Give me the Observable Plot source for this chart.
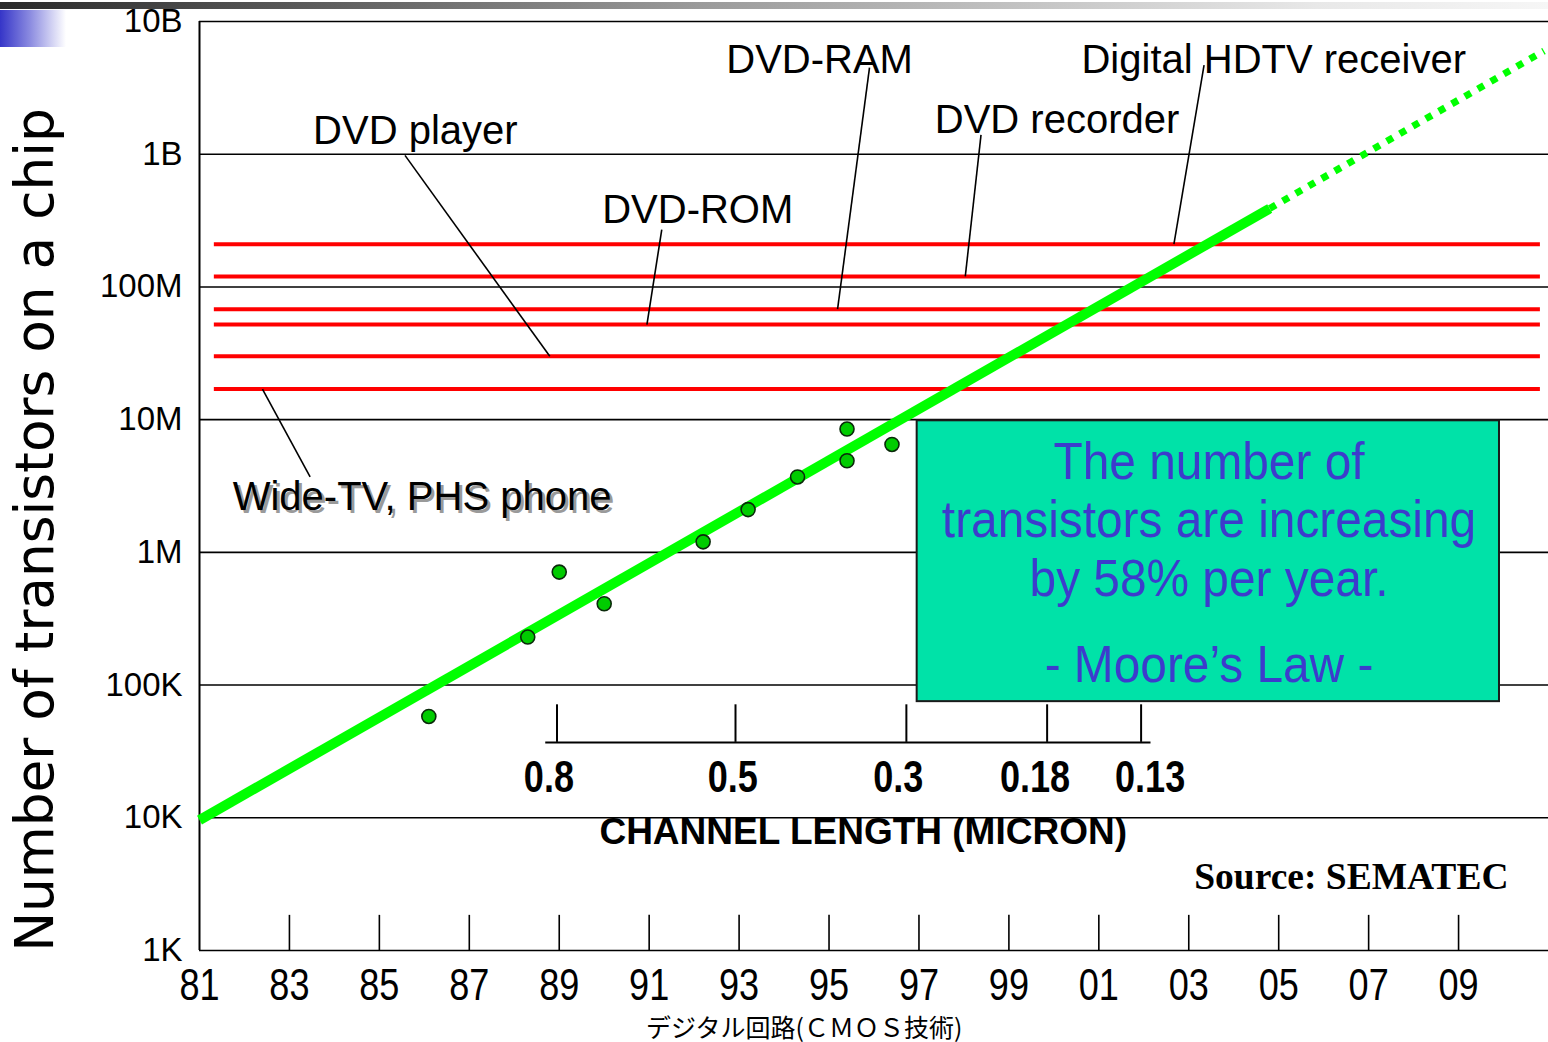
<!DOCTYPE html>
<html><head><meta charset="utf-8">
<script src="https://cdn.jsdelivr.net/npm/d3@7"></script>
<script src="https://cdn.jsdelivr.net/npm/@observablehq/plot@0.6"></script>
<style>
body{margin:0;background:#fff;}
#wrap{position:relative;width:1548px;height:1042px;overflow:hidden;}
#chart{position:absolute;left:0;top:0;}
#topbar{position:absolute;left:0;top:2px;width:1548px;height:7px;background:linear-gradient(to right,#2a2a2a,#9a9a9a 45%,#e8e8e8 85%,#f6f6f6);}
#corner{position:absolute;left:0;top:10px;width:66px;height:37px;background:linear-gradient(to right,#3535c8,#8a8ae0 45%,#ffffff);}
</style></head>
<body><div id="wrap"><div id="chart"></div><div id="topbar"></div><div id="corner"></div></div>
<script>
// ---- data ----
const yearTicks = [1981,1983,1985,1987,1989,1991,1993,1995,1997,1999,2001,2003,2005,2007,2009];
const yTickValues = [1e3,1e4,1e5,1e6,1e7,1e8,1e9,1e10];
const yTickLabels = ["1K","10K","100K","1M","10M","100M","1B","10B"];

const chipYears = [1986.1, 1988.3, 1989.0, 1990.0, 1992.2, 1993.2, 1994.3, 1995.4, 1995.4, 1996.4];
const chipTransistors = [5.8e4, 2.3e5, 7.1e5, 4.1e5, 1.2e6, 2.1e6, 3.7e6, 4.9e6, 8.5e6, 6.5e6];

const trendYears = [1981, 2004.8, 2010.9];
const trendValues = [9.6e3, 3.9e8, 6.0e9];

const deviceNames = ["Digital HDTV receiver","DVD recorder","DVD-RAM","DVD-ROM","DVD player","Wide-TV, PHS phone"];
const deviceLevels = [2.1e8, 1.2e8, 6.8e7, 5.2e7, 3.0e7, 1.7e7];
const deviceSpan = [1981.33, 2010.82];
const labelYears = [2004.89, 2000.07, 1994.79, 1992.08, 1985.8, 1985.95];
const labelValues = [5.1e9, 1.8e9, 5.1e9, 3.8e8, 1.5e9, 2.6e6];
const leaderFromYears = [2003.34, 1998.38, 1995.90, 1991.28, 1985.57, 1983.46];
const leaderFromValues = [4.7e9, 1.4e9, 4.5e9, 2.7e8, 9.8e8, 3.7e6];
const leaderToYears = [2002.67, 1998.03, 1995.19, 1990.95, 1988.79, 1982.40];

const channelLengths = ["0.8","0.5","0.3","0.18","0.13"];
const channelYears = [1988.95, 1992.92, 1996.72, 1999.85, 2001.94];
const channelLabelYears = [1988.77, 1992.86, 1996.54, 1999.58, 2002.14];
const channelAxisSpan = [1988.70, 2002.16];
const channelAxisValue = 3.7e4;
const channelTickTop = 7.1e4;
const channelLabelValue = 2.0e4;
const channelTitle = "CHANNEL LENGTH (MICRON)";
const channelTitlePos = [1995.76, 7.8e3];

const boxYears = [1996.96, 2009.91];
const boxValues = [7.5e4, 9.8e6];
const boxLines = ["The number of", "transistors are increasing", "by 58% per year.", "- Moore\u2019s Law -"];
const boxLineValues = [4.8e6, 1.74e6, 6.3e5, 1.4e5];
const boxCenterYear = 2003.45;

const sourceText = "Source: SEMATEC";
const sourcePos = [2010.11, 3.55e3];
const yTitle = "Number of transistors on a chip";
const caption = "デジタル回路(ＣＭＯＳ技術)";
const captionYear = 1994.45;

// ---- derived tables ----
const chips = chipYears.map((x, i) => ({x, y: chipTransistors[i]}));
const trend = trendYears.map((x, i) => ({x, y: trendValues[i]}));
const leaders = deviceNames.map((n, i) => ({x1: leaderFromYears[i], y1: leaderFromValues[i], x2: leaderToYears[i], y2: deviceLevels[i]}));
const labels = deviceNames.map((n, i) => ({name: n, x: labelYears[i], y: labelValues[i]}));
const shadowed = labels.filter(d => d.name.startsWith("Wide"));
const plain = labels.filter(d => !d.name.startsWith("Wide"));
const channel = channelLengths.map((t, i) => ({t, x: channelYears[i], lx: channelLabelYears[i]}));
const boxText = boxLines.map((t, i) => ({t, y: boxLineValues[i]}));
const yLabelOf = new Map(yTickValues.map((v, i) => [v, yTickLabels[i]]));

const SANS = "Liberation Sans, Arial, sans-serif";

const chart = Plot.plot({
  width: 1548, height: 1042,
  marginLeft: 199, marginRight: 0, marginTop: 21, marginBottom: 92,
  style: {fontFamily: SANS, background: "transparent", overflow: "visible"},
  x: {domain: [1981, 2011]},
  y: {type: "log", domain: [1e3, 1e10]},
  marks: [
    Plot.ruleY(yTickValues, {stroke: "#000", strokeWidth: 1.6}),
    Plot.ruleX([1981], {stroke: "#000", strokeWidth: 2}),
    Plot.ruleX(yearTicks.slice(1), {y1: 1e3, y2: 1.84e3, stroke: "#000", strokeWidth: 1.6}),
    Plot.axisX({ticks: yearTicks, tickFormat: d => String(d % 100).padStart(2, "0"), tickSize: 0, tickPadding: 18, fontSize: 44, label: null, fill: "#000"}),
    Plot.axisY({ticks: yTickValues, tickFormat: d => yLabelOf.get(d), tickSize: 0, tickPadding: 17, fontSize: 33, label: null, fill: "#000"}),
    Plot.ruleY(deviceLevels, {x1: deviceSpan[0], x2: deviceSpan[1], stroke: "#ff0000", strokeWidth: 4}),
    Plot.link(leaders, {x1: "x1", y1: "y1", x2: "x2", y2: "y2", stroke: "#000", strokeWidth: 1.6}),
    Plot.text(plain, {x: "x", y: "y", text: "name", fontSize: 40, fill: "#000"}),
    Plot.text(shadowed, {x: "x", y: "y", text: "name", fontSize: 40, fill: "#9a9a9a", dx: 3, dy: 3}),
    Plot.text(shadowed, {x: "x", y: "y", text: "name", fontSize: 40, fill: "#000"}),
    Plot.line(trend.slice(0, 2), {x: "x", y: "y", stroke: "#00ff00", strokeWidth: 10, strokeLinecap: "butt"}),
    Plot.line(trend.slice(1), {x: "x", y: "y", stroke: "#00ff00", strokeWidth: 7, strokeDasharray: "7,8", strokeLinecap: "butt"}),
    Plot.dot(chips, {x: "x", y: "y", r: 7, fill: "#00cc00", stroke: "#0a2a0a", strokeWidth: 1.6}),
    Plot.ruleY([channelAxisValue], {x1: channelAxisSpan[0], x2: channelAxisSpan[1], stroke: "#000", strokeWidth: 2}),
    Plot.ruleX(channel, {x: "x", y1: channelAxisValue, y2: channelTickTop, stroke: "#000", strokeWidth: 2}),
    Plot.text(channel, {x: "lx", y: () => channelLabelValue, text: "t", fontSize: 44, fontWeight: "bold", fill: "#000", ariaDescription: "narrow-c"}),
    Plot.text([channelTitle], {x: () => channelTitlePos[0], y: () => channelTitlePos[1], text: d => d, fontSize: 37, fontWeight: "bold", fill: "#000"}),
    Plot.rect([0], {x1: () => boxYears[0], x2: () => boxYears[1], y1: () => boxValues[0], y2: () => boxValues[1], fill: "#00e2a8", stroke: "#1a1a1a", strokeWidth: 2}),
    Plot.text(boxText, {x: () => boxCenterYear, y: "y", text: "t", fontSize: 52, fill: "#3c3ccc", ariaDescription: "narrow-b"}),
    Plot.text([sourceText], {x: () => sourcePos[0], y: () => sourcePos[1], text: d => d, textAnchor: "end", fontSize: 37.5, fontWeight: "bold", fontFamily: "Liberation Serif, Times New Roman, serif", fill: "#000"}),
    Plot.text([yTitle], {frameAnchor: "left", textAnchor: "middle", rotate: -90, dx: -164, dy: 44, text: d => d, fontSize: 53.3, fontFamily: "DejaVu Sans, Verdana, sans-serif", fill: "#000"}),
    Plot.text([caption], {x: () => captionYear, frameAnchor: "bottom", lineAnchor: "middle", dy: 78, text: d => d, fontSize: 25, fontFamily: "Noto Sans CJK JP, sans-serif", fill: "#000"})
  ]
});

// horizontally condense some texts (the reference uses a narrow typeface)
function condense(selector, k) {
  chart.querySelectorAll(selector).forEach(t => {
    let tr = t.getAttribute("transform");
    if (!tr) {
      const x = +t.getAttribute("x") || 0, y = +t.getAttribute("y") || 0;
      t.removeAttribute("x"); t.removeAttribute("y");
      tr = `translate(${x},${y})`;
    }
    t.setAttribute("transform", `${tr} scale(${k},1)`);
  });
}
condense('g[aria-label="x-axis tick label"] text', 0.82);
condense('g[aria-description="narrow-c"] text', 0.82);
condense('g[aria-description="narrow-b"] text', 0.92);
document.getElementById("chart").appendChild(chart);
</script>
</body></html>
